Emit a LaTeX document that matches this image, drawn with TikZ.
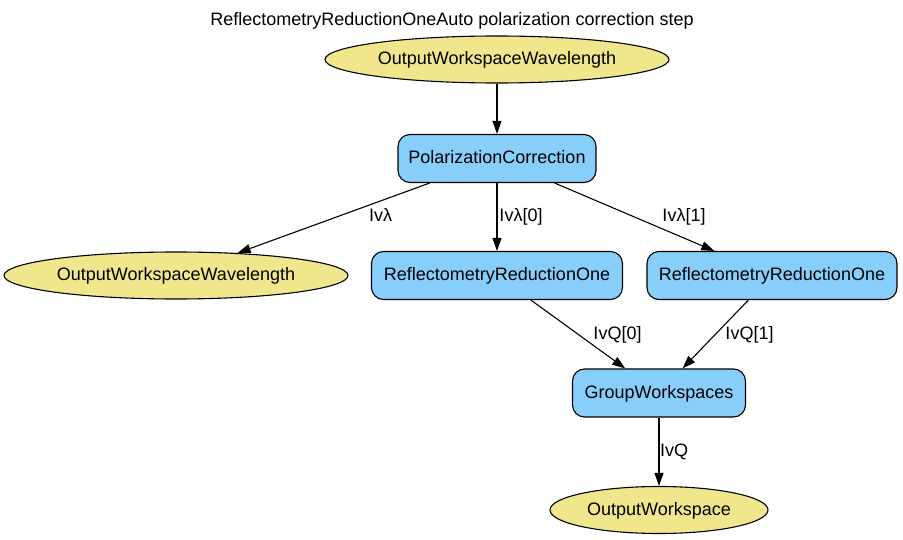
\documentclass[tikz,border=0pt]{standalone}
\usepackage{fontspec}
\setmainfont{Liberation Sans}
\usetikzlibrary{shapes.geometric,arrows.meta}
\definecolor{skyblue}{HTML}{87CEFA}
\definecolor{khaki}{HTML}{F0E68C}
\begin{document}
\begin{tikzpicture}[x=1pt,y=-1pt,
  every node/.style={font=\fontsize{18}{21}\selectfont},
  algbox/.style={draw=black, line width=1.1pt, fill=skyblue, rounded corners=12pt,
    minimum height=48pt, inner sep=0pt, text height=13pt, text depth=2pt},
  wsell/.style={ellipse, draw=black, line width=1.1pt, fill=khaki, inner sep=0pt,
    minimum height=47pt, text height=13pt, text depth=2pt},
  conn/.style={-{Triangle[length=13pt,width=9pt]}, line width=1.1pt},
  lbl/.style={inner sep=0pt, anchor=base}]
\useasboundingbox (0,0) rectangle (903,540);
\node[lbl] (title) at (452,26) {ReflectometryReductionOneAuto polarization correction step};
\node[wsell, minimum width=344pt] (owwtop) at (497,59.5) {OutputWorkspaceWavelength};
\node[algbox, minimum width=198pt] (pc) at (497,158.5) {PolarizationCorrection};
\node[wsell, minimum width=344pt] (owwl) at (176,275.5) {OutputWorkspaceWavelength};
\node[algbox, minimum width=251pt] (rro1) at (497,275.5) {ReflectometryReductionOne};
\node[algbox, minimum width=250pt] (rro2) at (772,275.5) {ReflectometryReductionOne};
\node[algbox, minimum width=173pt] (gw) at (659,393) {GroupWorkspaces};
\node[wsell, minimum width=218pt] (ow) at (659,510) {OutputWorkspace};

\draw[conn] (owwtop) -- (pc);
\draw[conn] (pc) -- (owwl);
\draw[conn] (pc) -- (rro1);
\draw[conn] (pc) -- (rro2);
\draw[conn] (rro1) -- (gw);
\draw[conn] (rro2) -- (gw);
\draw[conn] (gw) -- (ow);

\node[lbl] (l1) at (380.5,221.5) {Ivλ};
\node[lbl] (l2) at (521,221.5) {Ivλ[0]};
\node[lbl] (l3) at (684,221.5) {Ivλ[1]};
\node[lbl] (l4) at (617.5,339) {IvQ[0]};
\node[lbl] (l5) at (749.5,339) {IvQ[1]};
\node[lbl] (l6) at (674,456.5) {IvQ};
\end{tikzpicture}
\end{document}
